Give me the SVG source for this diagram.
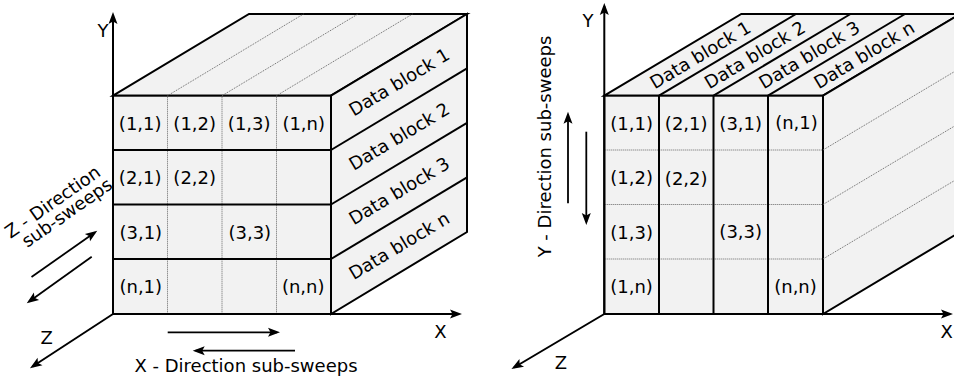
<svg xmlns="http://www.w3.org/2000/svg" width="954" height="378" viewBox="0 0 954 378">
<defs>
<style>
text{font-family:"DejaVu Sans","Liberation Sans",sans-serif;font-size:18px;fill:#000}
.c{text-anchor:middle}
.face{fill:#f2f2f2;stroke:#000;stroke-width:2;stroke-linejoin:miter}
.thick{stroke:#000;stroke-width:2;fill:none}
.dot{stroke:#666;stroke-width:1;stroke-dasharray:1 1;fill:none}
.ax{stroke:#000;stroke-width:2;fill:none;marker-end:url(#ah)}
.sw{stroke:#000;stroke-width:1.8;fill:none;marker-end:url(#ah)}
</style>
<marker id="ah" markerUnits="userSpaceOnUse" viewBox="-12 -6 16 12" refX="0" refY="0" markerWidth="16" markerHeight="12" orient="auto">
<path d="M-9,-4.5 L3,0 L-9,4.5 L-6.5,0 Z" fill="#000"/>
</marker>
</defs>

<!-- LEFT CUBE -->
<g id="left-cube">
<polygon class="face" points="113,95.7 249,14 467,14 331,95.7"/>
<polygon class="face" points="331,95.7 467,14 467,232 331,314"/>
<rect class="face" x="113" y="95.7" width="218" height="218.3"/>
<line class="dot" x1="167.5" y1="95.7" x2="303.5" y2="14"/>
<line class="dot" x1="222" y1="95.7" x2="358" y2="14"/>
<line class="dot" x1="276.5" y1="95.7" x2="412.5" y2="14"/>
<line class="dot" x1="167.5" y1="96.7" x2="167.5" y2="313"/>
<line class="dot" x1="222" y1="96.7" x2="222" y2="313"/>
<line class="dot" x1="276.5" y1="96.7" x2="276.5" y2="313"/>
<line class="thick" x1="113" y1="150" x2="331" y2="150"/>
<line class="thick" x1="113" y1="204.5" x2="331" y2="204.5"/>
<line class="thick" x1="113" y1="259" x2="331" y2="259"/>
<line class="thick" x1="331" y1="150" x2="467" y2="68.3"/>
<line class="thick" x1="331" y1="204.5" x2="467" y2="122.8"/>
<line class="thick" x1="331" y1="259" x2="467" y2="177.3"/>
</g>
<g id="left-cells">
<text class="c" x="140.2" y="129.5">(1,1)</text>
<text class="c" x="194.7" y="129.5">(1,2)</text>
<text class="c" x="249.2" y="129.5">(1,3)</text>
<text class="c" x="303.7" y="129.5">(1,n)</text>
<text class="c" x="140.2" y="184">(2,1)</text>
<text class="c" x="194.7" y="184">(2,2)</text>
<text class="c" x="140.8" y="238.5">(3,1)</text>
<text class="c" x="249.8" y="238.5">(3,3)</text>
<text class="c" x="140.8" y="293">(n,1)</text>
<text class="c" x="303.2" y="293">(n,n)</text>
</g>
<g id="left-blocks">
<text class="c" transform="translate(399,81.9) rotate(-31)" y="6.5">Data block 1</text>
<text class="c" transform="translate(399,136.2) rotate(-31)" y="6.5">Data block 2</text>
<text class="c" transform="translate(399,190.7) rotate(-31)" y="6.5">Data block 3</text>
<text class="c" transform="translate(399,245.5) rotate(-31)" y="6.5">Data block n</text>
</g>

<!-- RIGHT CUBE -->
<g id="right-cube">
<polygon class="face" points="604.3,95.7 741.3,14 960,14 823,95.7"/>
<polygon class="face" points="823,95.7 960,14 960,232 823,314"/>
<rect class="face" x="604.3" y="95.7" width="218.7" height="218.3"/>
<line class="dot" x1="605.3" y1="150" x2="822" y2="150"/>
<line class="dot" x1="605.3" y1="204.5" x2="822" y2="204.5"/>
<line class="dot" x1="605.3" y1="259" x2="822" y2="259"/>
<line class="dot" x1="823" y1="150" x2="960" y2="68.3"/>
<line class="dot" x1="823" y1="204.5" x2="960" y2="122.8"/>
<line class="dot" x1="823" y1="259" x2="960" y2="177.3"/>
<line class="thick" x1="659" y1="95.7" x2="659" y2="314"/>
<line class="thick" x1="713.5" y1="95.7" x2="713.5" y2="314"/>
<line class="thick" x1="768" y1="95.7" x2="768" y2="314"/>
<line class="thick" x1="659" y1="95.7" x2="796" y2="14"/>
<line class="thick" x1="713.5" y1="95.7" x2="850.5" y2="14"/>
<line class="thick" x1="768" y1="95.7" x2="905" y2="14"/>
</g>
<g id="right-cells">
<text class="c" x="631.6" y="129.5">(1,1)</text>
<text class="c" x="686.2" y="129.5">(2,1)</text>
<text class="c" x="740.7" y="129.5">(3,1)</text>
<text class="c" x="796.5" y="128.5">(n,1)</text>
<text class="c" x="631.6" y="184">(1,2)</text>
<text class="c" x="686.2" y="184.5">(2,2)</text>
<text class="c" x="631.6" y="238.5">(1,3)</text>
<text class="c" x="740.7" y="238">(3,3)</text>
<text class="c" x="631.6" y="292.5">(1,n)</text>
<text class="c" x="795.5" y="293">(n,n)</text>
</g>
<g id="right-blocks">
<text class="c" transform="translate(700.2,54.7) rotate(-31)" y="6.5">Data block 1</text>
<text class="c" transform="translate(754.7,54.7) rotate(-31)" y="6.5">Data block 2</text>
<text class="c" transform="translate(809.2,54.7) rotate(-31)" y="6.5">Data block 3</text>
<text class="c" transform="translate(864,54.7) rotate(-31)" y="6.5">Data block n</text>
</g>

<!-- CONNECTORS: axes and sweep arrows -->
<g id="connectors">
<line class="ax" x1="113" y1="314" x2="113" y2="15"/>
<line class="ax" x1="113" y1="314" x2="459" y2="314"/>
<line class="ax" x1="113" y1="314" x2="32.5" y2="366.5"/>
<line class="ax" x1="604.3" y1="314" x2="604.3" y2="6"/>
<line class="ax" x1="604.3" y1="314" x2="950" y2="314"/>
<line class="ax" x1="604.3" y1="314" x2="514" y2="367.5"/>
<line class="sw" x1="31.5" y1="277" x2="94.8" y2="232.5"/>
<line class="sw" x1="91.7" y1="256.7" x2="29.2" y2="301.5"/>
<line class="sw" x1="167.7" y1="332.3" x2="277" y2="332.3"/>
<line class="sw" x1="295" y1="350.7" x2="195.7" y2="350.7"/>
<line class="sw" x1="568" y1="203.3" x2="568" y2="114.7"/>
<line class="sw" x1="586.3" y1="131.7" x2="586.3" y2="222"/>
</g>

<g id="labels">
<text class="c" x="103" y="36.5">Y</text>
<text class="c" x="440.5" y="337.5">X</text>
<text class="c" x="46.7" y="343.5">Z</text>
<text class="c" x="588" y="26.5">Y</text>
<text class="c" x="946.7" y="337.5">X</text>
<text class="c" x="561" y="368.5">Z</text>
<text class="c" x="246" y="372">X - Direction sub-sweeps</text>
<text class="c" transform="translate(551,146.5) rotate(-90)">Y - Direction sub-sweeps</text>
<g transform="translate(52.5,201.7) rotate(-35)">
<text class="c" x="0" y="6.5">Z - Direction</text>
<text class="c" x="5.5" y="23.5">sub-sweeps</text>
</g>
</g>
</svg>
